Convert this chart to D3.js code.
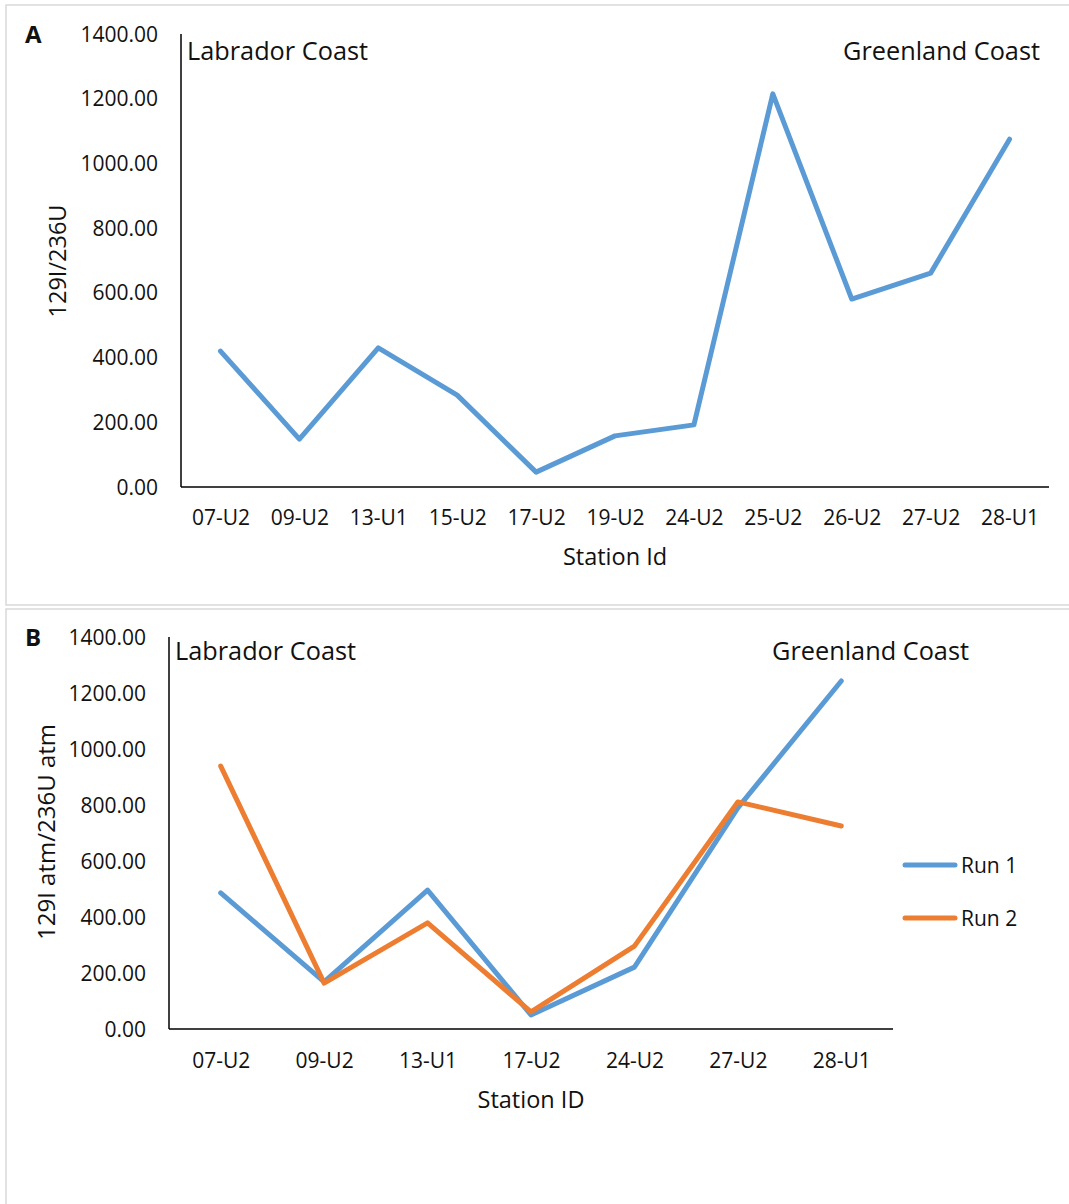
<!DOCTYPE html>
<html>
<head>
<meta charset="utf-8">
<script src="https://cdn.jsdelivr.net/npm/d3@7"></script>
<style>
  html, body { margin: 0; padding: 0; background: #fff; }
  svg text { font-family: "Open Sans", "Noto Sans", sans-serif; fill: #111; }
</style>
</head>
<body>
<svg id="fig" width="1069" height="1204"></svg>
<script>
// Panel A: single run, 11 stations
const stationsA = ["07-U2", "09-U2", "13-U1", "15-U2", "17-U2", "19-U2", "24-U2", "25-U2", "26-U2", "27-U2", "28-U1"];
const ratioA = [420, 148, 430, 284, 46, 158, 192, 1215, 581, 661, 1075];

// Panel B: two runs, 7 stations
const stationsB = ["07-U2", "09-U2", "13-U1", "17-U2", "24-U2", "27-U2", "28-U1"];
const run1 = [486, 168, 496, 50, 221, 790, 1243];
const run2 = [939, 164, 379, 61, 296, 811, 725];

const yTicks = [0, 200, 400, 600, 800, 1000, 1200, 1400];
const seriesNames = ["Run 1", "Run 2"];
const seriesColors = ["#5B9BD5", "#ED7D31"];

const svg = d3.select("#fig");

function panel(cfg) {
  const g = svg.append("g");
  // panel frame
  g.append("rect")
    .attr("x", cfg.frame[0]).attr("y", cfg.frame[1])
    .attr("width", cfg.frame[2]).attr("height", cfg.frame[3])
    .attr("fill", "#fff").attr("stroke", "#d9d9d9").attr("stroke-width", 1.5);

  const x = d3.scalePoint().domain(cfg.cats).range([cfg.x0, cfg.x1]).padding(0.5);
  const y = d3.scaleLinear().domain([0, 1400]).range([cfg.y0, cfg.y1]);

  // y axis: labels only, plus the spine
  const yAxis = d3.axisLeft(y).tickValues(yTicks).tickFormat(d3.format(".2f")).tickSize(0).tickPadding(cfg.yPad);
  const ya = g.append("g").attr("transform", `translate(${cfg.x0},0)`).call(yAxis);
  ya.select(".domain").remove();
  ya.selectAll("text").style("font-size", "21px").attr("fill", "#111").attr("dy", "0.34em");
  g.append("line").attr("x1", cfg.x0).attr("x2", cfg.x0).attr("y1", cfg.y1).attr("y2", cfg.y0)
    .attr("stroke", "#000").attr("stroke-width", 1.5);

  // x axis
  const xAxis = d3.axisBottom(x).tickSize(0).tickPadding(cfg.xPad);
  const xa = g.append("g").attr("transform", `translate(0,${cfg.y0})`).call(xAxis);
  xa.select(".domain").remove();
  xa.selectAll("text").style("font-size", "21px").attr("fill", "#111");
  g.append("line").attr("x1", cfg.x0).attr("x2", cfg.x1).attr("y1", cfg.y0).attr("y2", cfg.y0)
    .attr("stroke", "#000").attr("stroke-width", 1.5);

  // data lines
  const line = d3.line().x((d, i) => x(cfg.cats[i])).y(d => y(d));
  cfg.series.forEach((s, k) => {
    g.append("path").datum(s)
      .attr("d", line)
      .attr("fill", "none")
      .attr("stroke", seriesColors[k])
      .attr("stroke-width", 5)
      .attr("stroke-linejoin", "round")
      .attr("stroke-linecap", "round");
  });

  // region annotations
  g.append("text").attr("x", cfg.x0 + 6).attr("y", cfg.noteY)
    .style("font-size", "25.3px").text("Labrador Coast");
  g.append("text").attr("x", cfg.greenX).attr("y", cfg.noteY).attr("text-anchor", "end")
    .style("font-size", "25.3px").text("Greenland Coast");

  // panel letter
  g.append("text").attr("x", 25).attr("y", cfg.letterY)
    .style("font-size", "24px").style("font-weight", "bold").text(cfg.letter);

  // axis titles
  g.append("text").attr("x", cfg.xTitle[0]).attr("y", cfg.xTitle[1]).attr("text-anchor", "middle")
    .style("font-size", "23.5px").text(cfg.xLabel);
  g.append("text").attr("transform", `translate(${cfg.yTitle[0]},${cfg.yTitle[1]}) rotate(-90)`)
    .attr("text-anchor", "middle").style("font-size", cfg.yTitleSize).text(cfg.yLabel);

  return { g, x, y };
}

panel({
  frame: [6, 5, 1070, 600],
  cats: stationsA, series: [ratioA],
  x0: 181, x1: 1049, y0: 487, y1: 34,
  yPad: 23, xPad: 23,
  noteY: 60, greenX: 1040,
  letter: "A", letterY: 43,
  xLabel: "Station Id", xTitle: [615, 565],
  yLabel: "129I/236U", yTitle: [66, 261], yTitleSize: "23.5px"
});

const pb = panel({
  frame: [6, 609, 1070, 600],
  cats: stationsB, series: [run1, run2],
  x0: 169, x1: 893, y0: 1029, y1: 637,
  yPad: 23, xPad: 24,
  noteY: 660, greenX: 969,
  letter: "B", letterY: 646,
  xLabel: "Station ID", xTitle: [531, 1108],
  yLabel: "129I atm/236U atm", yTitle: [55, 832], yTitleSize: "24px"
});

// legend for panel B
const legend = pb.g.append("g");
seriesNames.forEach((name, k) => {
  const ly = 865 + k * 53;
  legend.append("line").attr("x1", 905).attr("x2", 955).attr("y1", ly).attr("y2", ly)
    .attr("stroke", seriesColors[k]).attr("stroke-width", 5).attr("stroke-linecap", "round");
  legend.append("text").attr("x", 961).attr("y", ly + 7.5).style("font-size", "21px").text(name);
});
</script>
</body>
</html>
